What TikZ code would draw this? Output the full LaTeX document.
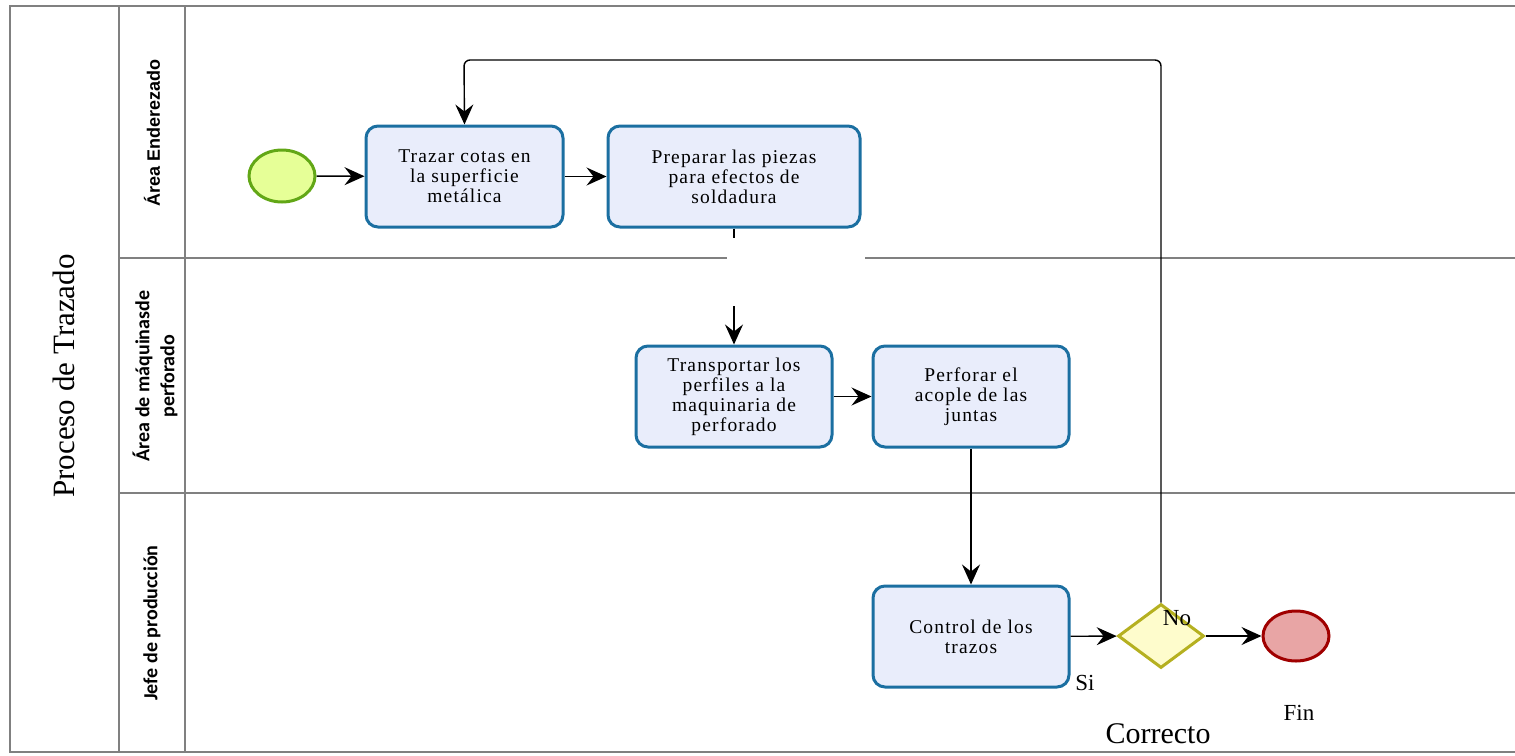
\documentclass[tikz,border=0pt]{standalone}
\usepackage{fontspec}
\setmainfont{Liberation Serif}
\newfontfamily\taskfont[LetterSpace=6]{Liberation Serif}
\newfontfamily\lanefontA{Liberation Sans}
\newfontfamily\lanefontB{Carlito}
\usetikzlibrary{shapes.geometric,arrows.meta}
\definecolor{taskfill}{HTML}{E9EDFB}
\definecolor{taskline}{HTML}{1B6FA1}
\definecolor{startfill}{HTML}{E6FF97}
\definecolor{startline}{HTML}{62A716}
\definecolor{endfill}{HTML}{E8A5A5}
\definecolor{endline}{HTML}{A00000}
\definecolor{gwfill}{HTML}{FEFCCC}
\definecolor{gwline}{HTML}{B5B020}
\definecolor{laneline}{HTML}{808080}
\begin{document}
\begin{tikzpicture}[x=1pt,y=-1pt,
  task/.style={draw=taskline,fill=taskfill,line width=3pt,rounded corners=12pt,
    minimum height=101pt,align=center,inner sep=2pt,
    font=\taskfont\fontsize{19.5}{20}\selectfont},
  flow/.style={line width=1.4pt,-{Stealth[length=20pt,width=18pt,inset=7pt]}},
  lane/.style={draw=laneline,line width=1.5pt},
  lanetext/.style={rotate=90,align=center},
  lbl/.style={font=\fontsize{23}{25}\selectfont}]
\useasboundingbox (0,0) rectangle (1515,755);
% pool and lanes
\draw[lane] (1515,6) -- (10,6) -- (10,752) -- (1515,752);
\draw[lane] (119,6) -- (119,752);
\draw[lane] (185,6) -- (185,752);
\draw[lane] (119,258) -- (1515,258);
\draw[lane] (119,493) -- (1515,493);
\node[rotate=90,font=\fontsize{31}{33}\selectfont] (pool) at (64,376) {Proceso de Trazado};
\node[lanetext,font=\lanefontA\bfseries\fontsize{18}{20}\selectfont] (l1) at (152,133) {Área Enderezado};
\node[lanetext,font=\lanefontB\bfseries\fontsize{20}{25}\selectfont] (l2) at (155,376) {Área de máquinasde\\perforado};
\node[lanetext,font=\lanefontB\bfseries\fontsize{20}{25}\selectfont] (l3) at (152,623) {Jefe de producción};
% flow objects
\node[ellipse,draw=startline,fill=startfill,line width=3pt,minimum width=66pt,minimum height=52pt] (start) at (282,176) {};
\node[task,minimum width=197pt] (t1) at (464.5,176.5) {Trazar cotas en\\la superficie\\metálica};
\node[task,minimum width=252pt] (t2) at (734,176.5) {Preparar las piezas\\para efectos de\\soldadura};
\node[task,minimum width=196pt] (t3) at (734,396.5) {Transportar los\\perfiles a la\\maquinaria de\\perforado};
\node[task,minimum width=196pt] (t4) at (971,396.5) {Perforar el\\acople de las\\juntas};
\node[task,minimum width=196pt] (t5) at (971,636.5) {Control de los\\trazos};
\node[diamond,draw=gwline,fill=gwfill,line width=3pt,aspect=1.33,minimum width=86pt,minimum height=64pt,inner sep=0pt] (gw) at (1161,636) {};
\node[ellipse,draw=endline,fill=endfill,line width=3pt,minimum width=66pt,minimum height=50pt] (end) at (1296,636) {};
% connectors
\draw[flow] (start) -- (t1);
\draw[flow] (t1) -- (t2);
\draw[flow] (t2.south) -- (t3.north);
\draw[flow] (t3) -- (t4);
\draw[flow] (t4) -- (t5);
\draw[flow] (t5) -- (gw);
\draw[flow] (gw) -- (end);
\draw[flow,rounded corners=6pt] (gw.north) |- (464,60) -- (t1.north);
% blank area over the lane boundary
\fill[white] (727,238) rectangle (865,306);
% labels
\node[lbl] (no) at (1177,618) {No};
\node[lbl] (si) at (1085,683) {Si};
\node[lbl] (fin) at (1299,713) {Fin};
\node[font=\fontsize{30}{32}\selectfont] (corr) at (1158,734) {Correcto};
\end{tikzpicture}
\end{document}
